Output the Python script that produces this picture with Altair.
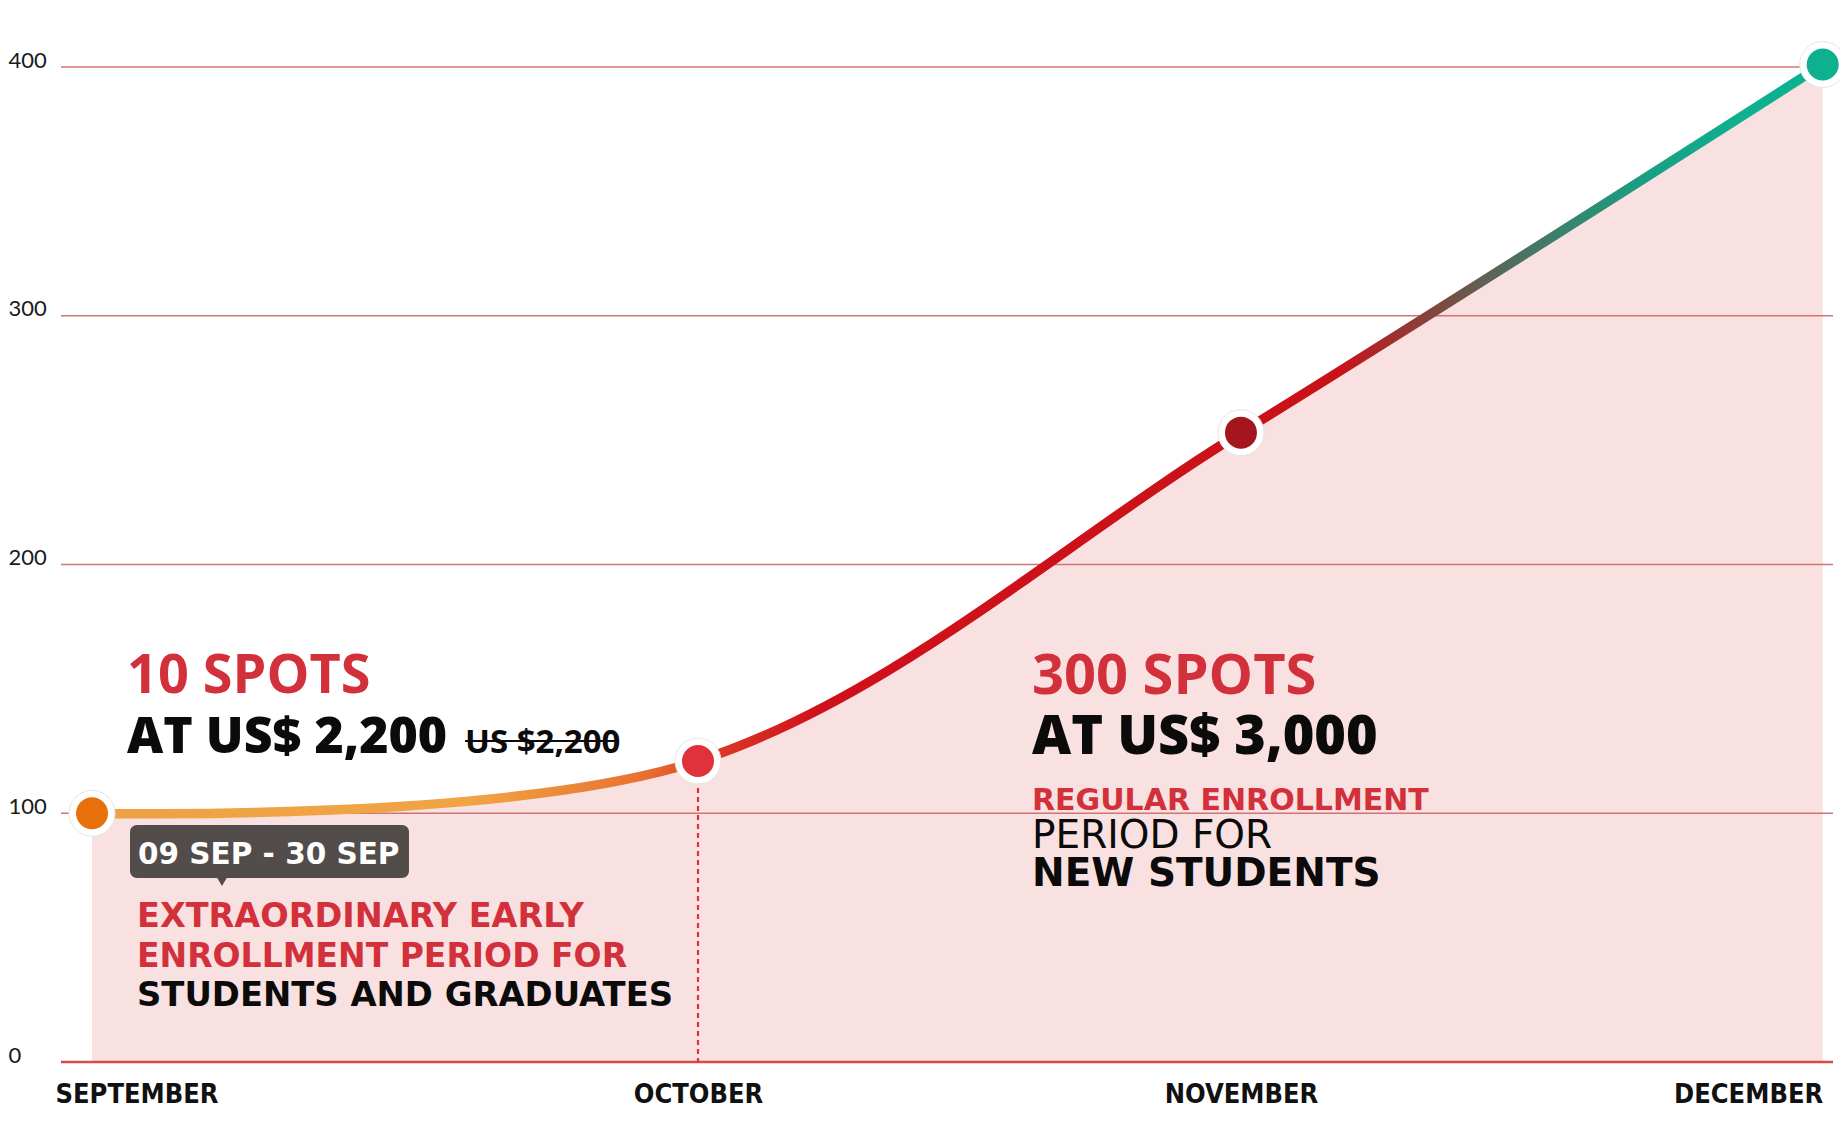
import altair as alt
import pandas as pd

# ---- data ----
months = ["SEPTEMBER", "OCTOBER", "NOVEMBER", "DECEMBER"]
x_pos = [0.0, 1.0, 1.896, 2.856]          # horizontal position of each milestone
spots = [100, 121, 253, 401]              # cumulative spots
y_ticks = [0, 100, 200, 300, 400]

# ---- annotation texts ----
left_title = "10 SPOTS"
left_price = "AT US$ 2,200"
left_old_price = "US $2,200"
left_dates = "09 SEP - 30 SEP"
left_desc = ["EXTRAORDINARY EARLY", "ENROLLMENT PERIOD FOR", "STUDENTS AND GRADUATES"]
right_title = "300 SPOTS"
right_price = "AT US$ 3,000"
right_desc = ["REGULAR ENROLLMENT", "PERIOD FOR", "NEW STUDENTS"]

# ---- styles ----
point_colors = ["#e8700b", "#e0323a", "#a3161d", "#0db08f"]
RED = "#d2303a"
BLACK = "#0b0b0b"
PINK = "#f9e1e1"
WIDE = "DejaVu Sans"
HEAD = "Open Sans"

df = pd.DataFrame({"month": months, "pos": x_pos, "value": spots})
ticks_df = pd.DataFrame({"tick": y_ticks})
one = pd.DataFrame({"k": [0]})

W, H = 1772, 995
x_scale = alt.Scale(domain=[-0.0512, 2.873], nice=False, zero=False)
y_scale = alt.Scale(domain=[0, 400], nice=False)

label_expr = "{}[indexof({}, datum.value)]".format(
    "[" + ",".join("'%s'" % m for m in months) + "]",
    "[" + ",".join(str(v) for v in x_pos) + "]",
)

x_axis = alt.Axis(
    values=x_pos,
    labelExpr=label_expr,
    labelAlign={
        "condition": [
            {"test": "datum.value == %s" % x_pos[0], "value": "left"},
            {"test": "datum.value == %s" % x_pos[-1], "value": "right"},
        ],
        "value": "center",
    },
    labelOffset={"condition": {"test": "datum.value == %s" % x_pos[0], "value": -37}, "value": 0},
    domain=False, ticks=False, tickSize=0, grid=False, title=None,
    labelFont="Liberation Sans Narrow, DejaVu Sans Condensed, sans-serif",
    labelFontWeight="bold", labelFontSize=27, labelColor="#111",
    labelPadding=19, labelBaseline="top", labelOverlap=False, labelFlush=False,
    labelLimit=600,
)
y_axis = alt.Axis(
    values=y_ticks, orient="left", labelAlign="left", labelPadding=53,
    labelBaseline="alphabetic", domain=False, ticks=False, tickSize=0,
    grid=False, title=None, labelFont="Lato", labelFontSize=22,
    labelFontWeight="normal", labelColor="#1a1a1a", labelOverlap=False,
)

X = alt.X("pos:Q", scale=x_scale, axis=x_axis)
Y = alt.Y("value:Q", scale=y_scale, axis=y_axis)
CURVE = "catmull-rom"

area = alt.Chart(df).mark_area(interpolate=CURVE, color=PINK, opacity=1).encode(x=X, y=Y)


def text(t, x, y, size, color, weight="bold", font=WIDE):
    return alt.Chart(one).mark_text(
        text=t, fontSize=size, color=color, fontWeight=weight, font=font,
        align="left", baseline="alphabetic",
    ).encode(x=alt.value(x), y=alt.value(y))


texts = [
    text(left_title, 66, 626, 54, RED, "bold", HEAD),
    text(left_price, 66, 686, 50, BLACK, 800, HEAD),
    text(left_old_price, 404, 686, 33, BLACK, "bold", HEAD),
    text(left_desc[0], 76, 860, 33.5, RED),
    text(left_desc[1], 76, 900, 33, RED),
    text(left_desc[2], 76, 939, 33.8, BLACK),
    text(right_title, 971, 627, 56, RED, "bold", HEAD),
    text(right_price, 971, 687, 54, BLACK, 800, HEAD),
    text(right_desc[0], 971, 743, 30, RED),
    text(right_desc[1], 971, 781, 39, BLACK, "normal"),
    text(right_desc[2], 971, 819, 39, BLACK),
]

strike = alt.Chart(one).mark_rule(color=BLACK, strokeWidth=2).encode(
    x=alt.value(404), x2=alt.value(557), y=alt.value(674)
)
box = alt.Chart(one).mark_rect(color="#524c4a", cornerRadius=7).encode(
    x=alt.value(69), x2=alt.value(348), y=alt.value(758), y2=alt.value(811)
)
pointer = alt.Chart(one).mark_point(
    shape="triangle-down", filled=True, color="#524c4a", size=90, opacity=1
).encode(x=alt.value(161), y=alt.value(815))
box_text = text(left_dates, 77, 797, 29.5, "white")

grid = alt.Chart(ticks_df).mark_rule().encode(
    y=alt.Y("tick:Q", scale=y_scale, axis=y_axis),
    color=alt.condition(alt.datum.tick == 0, alt.value("#d84a4a"), alt.value("#d07474")),
    strokeWidth=alt.condition(alt.datum.tick == 0, alt.value(2.5), alt.value(1.6)),
)

dashed = alt.Chart(df).transform_filter(alt.datum.month == months[1]).mark_rule(
    color="#e0303a", strokeDash=[5, 4], strokeWidth=2.2
).encode(x=X, y=Y, y2=alt.datum(0))

line_gradient = alt.Gradient(
    gradient="linear", x1=0, x2=1, y1=0, y2=0,
    stops=[
        alt.GradientStop(offset=0.0, color="#eea243"),
        alt.GradientStop(offset=0.22, color="#f0a444"),
        alt.GradientStop(offset=0.32, color="#e8702f"),
        alt.GradientStop(offset=0.36, color="#dc3826"),
        alt.GradientStop(offset=0.42, color="#d0101a"),
        alt.GradientStop(offset=0.72, color="#c8121a"),
        alt.GradientStop(offset=0.78, color="#7c4a42"),
        alt.GradientStop(offset=0.82, color="#4f6e5e"),
        alt.GradientStop(offset=0.89, color="#1c9c80"),
        alt.GradientStop(offset=0.95, color="#0db08f"),
        alt.GradientStop(offset=1.0, color="#0db08f"),
    ],
)

line = alt.Chart(df).mark_line(
    interpolate=CURVE, strokeWidth=9.5, stroke=line_gradient, strokeCap="round"
).encode(x=X, y=Y)

rings = alt.Chart(df).mark_circle(
    size=46 * 46, color="white", opacity=1, stroke="#e6e6e6", strokeWidth=1
).encode(x=X, y=Y)

dots = alt.Chart(df).mark_circle(size=32 * 32, opacity=1).encode(
    x=X, y=Y,
    color=alt.Color("month:N", scale=alt.Scale(domain=months, range=point_colors), legend=None),
)

chart = alt.layer(
    area, *texts, box, pointer, box_text, grid, dashed, strike, line, rings, dots
).properties(
    width=W, height=H,
    padding={"left": 53, "top": 59, "right": 7, "bottom": 50},
    autosize="none",
).configure_view(stroke=None)

chart.save("out.html", embed_options={"renderer": "svg", "actions": False})
